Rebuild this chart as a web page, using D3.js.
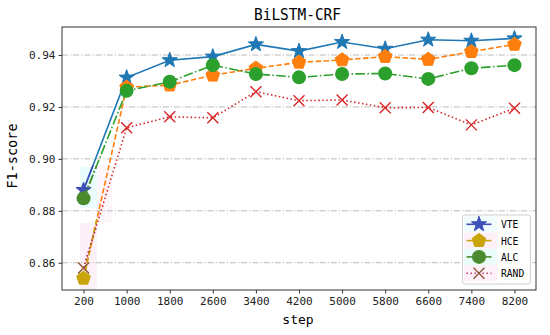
<!DOCTYPE html>
<html>
<head>
<meta charset="utf-8">
<script src="https://cdn.jsdelivr.net/npm/d3@7"></script>
<style>
  body { margin: 0; background: #fff; }
  svg { display: block; }
</style>
</head>
<body>
<div id="chart"></div>
<script>
var steps = [200, 1000, 1800, 2600, 3400, 4200, 5000, 5800, 6600, 7400, 8200];
var vte  = [0.888, 0.9313, 0.938, 0.9394, 0.9441, 0.9415, 0.945, 0.9424, 0.9459, 0.9455, 0.9464];
var hce  = [0.854, 0.9276, 0.9284, 0.9322, 0.9349, 0.9372, 0.9381, 0.9394, 0.9383, 0.9413, 0.9441];
var alc  = [0.8848, 0.9262, 0.9297, 0.9361, 0.9327, 0.9314, 0.9327, 0.9329, 0.9308, 0.9349, 0.9361];
var rand = [0.858, 0.912, 0.9162, 0.9158, 0.9259, 0.9224, 0.9227, 0.9197, 0.9198, 0.9131, 0.9195];
var yTicks = [0.86, 0.88, 0.90, 0.92, 0.94];
var seriesNames = ['VTE', 'HCE', 'ALC', 'RAND'];

var width = 550, height = 335;
var plotL = 62, plotR = 536, plotT = 27, plotB = 290;
var mono = '"DejaVu Sans Mono", "Liberation Mono", monospace';

var svg = d3.select('#chart').append('svg')
  .attr('width', width).attr('height', height);

var x = d3.scalePoint().domain(steps).range([plotL, plotR]).padding(0.5);
var y = d3.scaleLinear().domain([0.8495, 0.9508]).range([plotB, plotT]);

// marker shapes
function starPath(r) {
  var p = [];
  for (var i = 0; i < 10; i++) {
    var a = -Math.PI / 2 + i * Math.PI / 5;
    var rr = i % 2 ? r * 0.40 : r;
    p.push([rr * Math.cos(a), rr * Math.sin(a)]);
  }
  return 'M' + p.join('L') + 'Z';
}
function pentPath(r) {
  var p = [];
  for (var i = 0; i < 5; i++) {
    var a = -Math.PI / 2 + i * 2 * Math.PI / 5;
    p.push([r * Math.cos(a), r * Math.sin(a)]);
  }
  return 'M' + p.join('L') + 'Z';
}
function xPath(r) {
  return 'M' + -r + ',' + -r + 'L' + r + ',' + r + 'M' + -r + ',' + r + 'L' + r + ',' + -r;
}

var series = [
  {name: seriesNames[0], values: vte, color: '#1f77b4', alt: '#3d4fb8', altLine: '#3d4fb8', dash: null, shape: starPath(8), fill: true},
  {name: seriesNames[1], values: hce, color: '#ff7f0e', alt: '#c9a50a', altLine: '#c9a50a', dash: '5.5,2.4', shape: pentPath(7.2), fill: true},
  {name: seriesNames[2], values: alc, color: '#2ca02c', alt: '#4b8b2d', altLine: '#4b8b2d', dash: '9.6,2.4,1.5,2.4', shape: null, fill: true},
  {name: seriesNames[3], values: rand, color: '#d62728', alt: '#8e5836', altLine: '#c0405a', dash: '1.5,2.5', shape: xPath(5.5), fill: false}
];

// faint tinted patches near the first step
var tints = [
  {x0: 80, x1: 97, y0: 167, y1: 208, c: '#eafcfb'},
  {x0: 97, x1: 112, y0: 165, y1: 223, c: '#fdf6fb'},
  {x0: 80, x1: 97, y0: 223, y1: 289, c: '#fcf0f9'}
];
svg.selectAll('rect.tint').data(tints).enter().append('rect')
  .attr('class', 'tint')
  .attr('x', function (d) { return d.x0; })
  .attr('y', function (d) { return d.y0; })
  .attr('width', function (d) { return d.x1 - d.x0; })
  .attr('height', function (d) { return d.y1 - d.y0; })
  .attr('fill', function (d) { return d.c; });

// grid
svg.selectAll('line.grid').data(yTicks).enter().append('line')
  .attr('class', 'grid')
  .attr('x1', plotL).attr('x2', plotR)
  .attr('y1', function (d) { return y(d); })
  .attr('y2', function (d) { return y(d); })
  .attr('stroke', '#b3b3b3').attr('stroke-width', 0.9)
  .attr('stroke-dasharray', '6,2,1.2,2');

svg.append('defs').append('clipPath').attr('id', 'altclip')
  .append('rect').attr('x', plotL).attr('y', 165).attr('width', 35).attr('height', plotB - 165);

var line = d3.line()
  .x(function (d, i) { return x(steps[i]); })
  .y(function (d) { return y(d); });

function drawMarker(g, s, color, px, py) {
  if (s.name === 'ALC') {
    g.append('circle').attr('cx', px).attr('cy', py).attr('r', 7)
      .attr('fill', color);
  } else if (s.fill) {
    g.append('path').attr('d', s.shape)
      .attr('transform', 'translate(' + px + ',' + py + ')')
      .attr('fill', color).attr('stroke', color).attr('stroke-width', 1);
  } else {
    g.append('path').attr('d', s.shape)
      .attr('transform', 'translate(' + px + ',' + py + ')')
      .attr('fill', 'none').attr('stroke', color).attr('stroke-width', 1.4);
  }
}

series.forEach(function (s) {
  var g = svg.append('g');
  g.append('path').datum(s.values)
    .attr('d', line)
    .attr('fill', 'none')
    .attr('stroke', s.color)
    .attr('stroke-width', 1.6)
    .attr('stroke-dasharray', s.dash);
  g.append('path').datum(s.values)
    .attr('d', line)
    .attr('clip-path', 'url(#altclip)')
    .attr('fill', 'none')
    .attr('stroke', s.altLine)
    .attr('stroke-width', 1.6)
    .attr('stroke-dasharray', s.dash);
  s.values.forEach(function (v, i) {
    drawMarker(g, s, i === 0 ? s.alt : s.color, x(steps[i]), y(v));
  });
});

// frame
svg.append('rect')
  .attr('x', plotL).attr('y', plotT)
  .attr('width', plotR - plotL).attr('height', plotB - plotT)
  .attr('fill', 'none').attr('stroke', '#333').attr('stroke-width', 1);

// axes
var xAxis = svg.append('g')
  .attr('transform', 'translate(0,' + plotB + ')')
  .call(d3.axisBottom(x).tickSize(3.5).tickPadding(4));
var yAxis = svg.append('g')
  .attr('transform', 'translate(' + plotL + ',0)')
  .call(d3.axisLeft(y).tickValues(yTicks).tickFormat(d3.format('.2f')).tickSize(3.5).tickPadding(3));
[xAxis, yAxis].forEach(function (a) {
  a.select('.domain').remove();
  a.selectAll('line').attr('stroke', '#333');
  a.selectAll('text').attr('font-family', mono).attr('font-size', 11).attr('fill', '#222');
});

// title and axis labels
svg.append('text')
  .attr('x', 297.5).attr('y', 20)
  .attr('text-anchor', 'middle')
  .attr('font-family', mono).attr('font-size', 16)
  .attr('textLength', 87).attr('lengthAdjust', 'spacingAndGlyphs')
  .text('BiLSTM-CRF');
svg.append('text')
  .attr('x', 298).attr('y', 324)
  .attr('text-anchor', 'middle')
  .attr('font-family', mono).attr('font-size', 13)
  .text('step');
svg.append('text')
  .attr('transform', 'translate(17,156) rotate(-90)')
  .attr('text-anchor', 'middle')
  .attr('font-family', mono).attr('font-size', 13.5)
  .text('F1-score');

// legend
var lg = svg.append('g');
lg.append('rect')
  .attr('x', 462.5).attr('y', 215).attr('width', 68).attr('height', 69)
  .attr('rx', 2.5)
  .attr('fill', '#fff').attr('stroke', '#d0d0d0').attr('stroke-width', 1);
var rowTints = ['#f1fcfc', '#fdf0f9', '#e9fcf8', '#fdf0f9'];
series.forEach(function (s, i) {
  var cy = 224.3 + i * 16.3;
  lg.append('rect').attr('x', 464).attr('y', cy - 8).attr('width', 33).attr('height', 16)
    .attr('fill', rowTints[i]);
  lg.append('line')
    .attr('x1', 466.5).attr('x2', 491.5).attr('y1', cy).attr('y2', cy)
    .attr('stroke', s.name === 'RAND' ? s.altLine : s.alt)
    .attr('stroke-width', 1.6)
    .attr('stroke-dasharray', s.name === 'RAND' ? s.dash : null);
  drawMarker(lg, s, s.alt, 479, cy);
  lg.append('text')
    .attr('x', 501).attr('y', cy + 4)
    .attr('font-family', mono).attr('font-size', 11)
    .attr('textLength', s.name.length * 5.8).attr('lengthAdjust', 'spacingAndGlyphs')
    .text(s.name);
});
</script>
</body>
</html>
